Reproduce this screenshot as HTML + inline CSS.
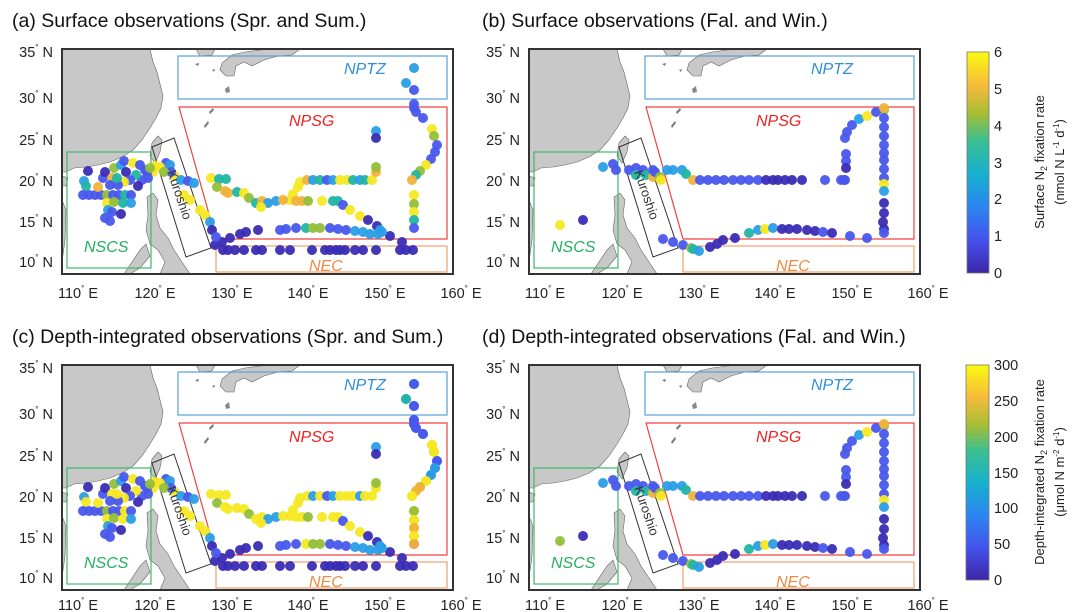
<!DOCTYPE html>
<html><head><meta charset="utf-8">
<style>
html,body{margin:0;padding:0;background:#fff;}
svg{display:block;font-family:"Liberation Sans",sans-serif;}
.t{font-size:19.5px;fill:#111;}
.ax{font-size:14.5px;fill:#222;}
.sup{font-size:8px;}
.rl{font-size:16px;font-style:italic;}
.cb{font-size:14.5px;fill:#222;}
.cbt{font-size:13px;fill:#222;}
</style></head><body>
<svg id="s" width="1080" height="612" viewBox="0 0 1080 612" xmlns="http://www.w3.org/2000/svg">
<defs>
<linearGradient id="par" x1="0" y1="1" x2="0" y2="0">
<stop offset="0" stop-color="#3e26a8"/><stop offset="0.15" stop-color="#4352ec"/>
<stop offset="0.3" stop-color="#2b86f0"/><stop offset="0.45" stop-color="#17b0cf"/>
<stop offset="0.6" stop-color="#3bbf8f"/><stop offset="0.72" stop-color="#a6be35"/>
<stop offset="0.85" stop-color="#f8ba3c"/><stop offset="1" stop-color="#f9fb0e"/>
</linearGradient>
<g id="base">
<rect x="62" y="49" width="391" height="225" fill="#fff"/>
<path d="M62,49 L150,49 L153,62 L157,72 L160,84 L163,96 L161,108 L156,118 L150,128 L142,140 L133,150 L122,157 L110,162 L98,165 L86,167 L74,168 L66,172 L62,172 Z" fill="#c8c8c8" stroke="#666" stroke-width="0.6"/>
<path d="M62,200 L66,210 L65,240 L62,262 Z" fill="#c8c8c8" stroke="#666" stroke-width="0.6"/>
<path d="M62,176 L68,178 L66,186 L62,186 Z" fill="#c8c8c8" stroke="#666" stroke-width="0.6"/>
<path d="M152,143 L158,136 L162,140 L160,152 L155,163 L150,156 Z" fill="#c8c8c8" stroke="#666" stroke-width="0.6"/>
<path d="M147,197 L153,193 L158,200 L156,215 L160,228 L168,238 L174,250 L182,262 L190,274 L160,274 L165,262 L158,250 L150,244 L146,230 L148,215 Z" fill="#c8c8c8" stroke="#666" stroke-width="0.6"/>
<path d="M140,250 L146,244 L150,256 L140,268 L130,274 L124,274 Z" fill="#c8c8c8" stroke="#666" stroke-width="0.6"/>
<path d="M196,49 L215,49 L212,55 L200,56 Z" fill="#c8c8c8" stroke="#666" stroke-width="0.6"/>
<path d="M222,63 L232,55 L245,52 L260,50 L275,49 L300,49 L292,55 L278,56 L264,60 L252,66 L244,62 L236,66 L234,76 L226,76 L220,70 Z" fill="#c8c8c8" stroke="#666" stroke-width="0.6"/>
<path d="M225,89 L229,86 L230,92 L226,93 Z" fill="#888"/>
<path d="M209,112 L213,108 L214,110 L210,114 Z M204,126 L208,121 L209,123 L205,128 Z M195,64 L199,63 L198,66 Z M212,70 L215,69 L214,72Z" fill="#777"/>
<rect x="178" y="56" width="269" height="43" fill="none" stroke="#5aa0d8" stroke-width="1.2"/>
<path d="M179,107 L447,107 L447,239 L216,239 Z" fill="none" stroke="#f04040" stroke-width="1.2"/>
<rect x="67" y="152" width="84" height="116" fill="none" stroke="#3cb76a" stroke-width="1.2"/>
<rect x="216" y="246" width="231" height="26" fill="none" stroke="#f0a070" stroke-width="1.2"/>
<path d="M152,147 L174,138 L211,248 L186,257 Z" fill="none" stroke="#333" stroke-width="1"/>
</g>
</defs>

<use href="#base"/>
<use href="#base" transform="translate(467,0)"/>
<use href="#base" transform="translate(0,316)"/>
<use href="#base" transform="translate(467,316)"/>

<g id="dots"></g>

<g fill="none" stroke="#333" stroke-width="2">
<rect x="62" y="49" width="391" height="225"/>
<rect x="529" y="49" width="391" height="225"/>
<rect x="62" y="365" width="391" height="225"/>
<rect x="529" y="365" width="391" height="225"/>
</g>

<text class="t" x="12" y="27">(a) Surface observations (Spr. and Sum.)</text>
<text class="t" x="482" y="27">(b) Surface observations (Fal. and Win.)</text>
<text class="t" x="12" y="343">(c) Depth-integrated observations (Spr. and Sum.)</text>
<text class="t" x="482" y="343">(d) Depth-integrated observations (Fal. and Win.)</text>

<g class="rl">
<text x="344" y="74" fill="#2f8fd8">NPTZ</text><text x="289" y="126" fill="#f02020">NPSG</text><text x="84" y="252" fill="#22b060">NSCS</text><text x="309" y="271" fill="#f08a40">NEC</text>
<text x="811" y="74" fill="#2f8fd8">NPTZ</text><text x="756" y="126" fill="#f02020">NPSG</text><text x="551" y="252" fill="#22b060">NSCS</text><text x="776" y="271" fill="#f08a40">NEC</text>
<text x="344" y="390" fill="#2f8fd8">NPTZ</text><text x="289" y="442" fill="#f02020">NPSG</text><text x="84" y="568" fill="#22b060">NSCS</text><text x="309" y="587" fill="#f08a40">NEC</text>
<text x="811" y="390" fill="#2f8fd8">NPTZ</text><text x="756" y="442" fill="#f02020">NPSG</text><text x="551" y="568" fill="#22b060">NSCS</text><text x="776" y="587" fill="#f08a40">NEC</text>
</g>
<g font-size="13" fill="#333">
<text transform="translate(167,172) rotate(71)">Kuroshio</text>
<text transform="translate(634,172) rotate(71)">Kuroshio</text>
<text transform="translate(167,488) rotate(71)">Kuroshio</text>
<text transform="translate(634,488) rotate(71)">Kuroshio</text>
</g>

<g class="ax" text-anchor="end">
<text x="53" y="57">35<tspan class="sup" dy="-7">°</tspan><tspan dy="7"> N</tspan></text>
<text x="53" y="103">30<tspan class="sup" dy="-7">°</tspan><tspan dy="7"> N</tspan></text>
<text x="53" y="145">25<tspan class="sup" dy="-7">°</tspan><tspan dy="7"> N</tspan></text>
<text x="53" y="186">20<tspan class="sup" dy="-7">°</tspan><tspan dy="7"> N</tspan></text>
<text x="53" y="227">15<tspan class="sup" dy="-7">°</tspan><tspan dy="7"> N</tspan></text>
<text x="53" y="267">10<tspan class="sup" dy="-7">°</tspan><tspan dy="7"> N</tspan></text>
<text x="520" y="57">35<tspan class="sup" dy="-7">°</tspan><tspan dy="7"> N</tspan></text>
<text x="520" y="103">30<tspan class="sup" dy="-7">°</tspan><tspan dy="7"> N</tspan></text>
<text x="520" y="145">25<tspan class="sup" dy="-7">°</tspan><tspan dy="7"> N</tspan></text>
<text x="520" y="186">20<tspan class="sup" dy="-7">°</tspan><tspan dy="7"> N</tspan></text>
<text x="520" y="227">15<tspan class="sup" dy="-7">°</tspan><tspan dy="7"> N</tspan></text>
<text x="520" y="267">10<tspan class="sup" dy="-7">°</tspan><tspan dy="7"> N</tspan></text>
<text x="53" y="373">35<tspan class="sup" dy="-7">°</tspan><tspan dy="7"> N</tspan></text>
<text x="53" y="419">30<tspan class="sup" dy="-7">°</tspan><tspan dy="7"> N</tspan></text>
<text x="53" y="461">25<tspan class="sup" dy="-7">°</tspan><tspan dy="7"> N</tspan></text>
<text x="53" y="502">20<tspan class="sup" dy="-7">°</tspan><tspan dy="7"> N</tspan></text>
<text x="53" y="543">15<tspan class="sup" dy="-7">°</tspan><tspan dy="7"> N</tspan></text>
<text x="53" y="583">10<tspan class="sup" dy="-7">°</tspan><tspan dy="7"> N</tspan></text>
<text x="520" y="373">35<tspan class="sup" dy="-7">°</tspan><tspan dy="7"> N</tspan></text>
<text x="520" y="419">30<tspan class="sup" dy="-7">°</tspan><tspan dy="7"> N</tspan></text>
<text x="520" y="461">25<tspan class="sup" dy="-7">°</tspan><tspan dy="7"> N</tspan></text>
<text x="520" y="502">20<tspan class="sup" dy="-7">°</tspan><tspan dy="7"> N</tspan></text>
<text x="520" y="543">15<tspan class="sup" dy="-7">°</tspan><tspan dy="7"> N</tspan></text>
<text x="520" y="583">10<tspan class="sup" dy="-7">°</tspan><tspan dy="7"> N</tspan></text>
</g>
<g class="ax" text-anchor="middle">
<text x="78" y="298">110<tspan class="sup" dy="-7">°</tspan><tspan dy="7"> E</tspan></text>
<text x="155" y="298">120<tspan class="sup" dy="-7">°</tspan><tspan dy="7"> E</tspan></text>
<text x="232" y="298">130<tspan class="sup" dy="-7">°</tspan><tspan dy="7"> E</tspan></text>
<text x="308" y="298">140<tspan class="sup" dy="-7">°</tspan><tspan dy="7"> E</tspan></text>
<text x="385" y="298">150<tspan class="sup" dy="-7">°</tspan><tspan dy="7"> E</tspan></text>
<text x="461" y="298">160<tspan class="sup" dy="-7">°</tspan><tspan dy="7"> E</tspan></text>
<text x="545" y="298">110<tspan class="sup" dy="-7">°</tspan><tspan dy="7"> E</tspan></text>
<text x="622" y="298">120<tspan class="sup" dy="-7">°</tspan><tspan dy="7"> E</tspan></text>
<text x="699" y="298">130<tspan class="sup" dy="-7">°</tspan><tspan dy="7"> E</tspan></text>
<text x="775" y="298">140<tspan class="sup" dy="-7">°</tspan><tspan dy="7"> E</tspan></text>
<text x="852" y="298">150<tspan class="sup" dy="-7">°</tspan><tspan dy="7"> E</tspan></text>
<text x="928" y="298">160<tspan class="sup" dy="-7">°</tspan><tspan dy="7"> E</tspan></text>
<text x="78" y="610">110<tspan class="sup" dy="-7">°</tspan><tspan dy="7"> E</tspan></text>
<text x="155" y="610">120<tspan class="sup" dy="-7">°</tspan><tspan dy="7"> E</tspan></text>
<text x="232" y="610">130<tspan class="sup" dy="-7">°</tspan><tspan dy="7"> E</tspan></text>
<text x="308" y="610">140<tspan class="sup" dy="-7">°</tspan><tspan dy="7"> E</tspan></text>
<text x="385" y="610">150<tspan class="sup" dy="-7">°</tspan><tspan dy="7"> E</tspan></text>
<text x="461" y="610">160<tspan class="sup" dy="-7">°</tspan><tspan dy="7"> E</tspan></text>
<text x="545" y="610">110<tspan class="sup" dy="-7">°</tspan><tspan dy="7"> E</tspan></text>
<text x="622" y="610">120<tspan class="sup" dy="-7">°</tspan><tspan dy="7"> E</tspan></text>
<text x="699" y="610">130<tspan class="sup" dy="-7">°</tspan><tspan dy="7"> E</tspan></text>
<text x="775" y="610">140<tspan class="sup" dy="-7">°</tspan><tspan dy="7"> E</tspan></text>
<text x="852" y="610">150<tspan class="sup" dy="-7">°</tspan><tspan dy="7"> E</tspan></text>
<text x="928" y="610">160<tspan class="sup" dy="-7">°</tspan><tspan dy="7"> E</tspan></text>
</g>

<rect x="967" y="52" width="22" height="221" fill="url(#par)" stroke="#777" stroke-width="0.8"/>
<g class="cb">
<text x="994" y="57">6</text><text x="994" y="94">5</text><text x="994" y="131">4</text><text x="994" y="168">3</text><text x="994" y="204">2</text><text x="994" y="241">1</text><text x="994" y="278">0</text>
</g>
<text class="cbt" transform="translate(1044,162) rotate(-90)" text-anchor="middle">Surface N<tspan font-size="9" dy="3">2</tspan><tspan dy="-3"> fixation rate</tspan></text>
<text class="cbt" transform="translate(1064,162) rotate(-90)" text-anchor="middle">(nmol N L<tspan font-size="8" dy="-5">-1</tspan><tspan dy="5"> d</tspan><tspan font-size="8" dy="-5">-1</tspan><tspan dy="5">)</tspan></text>
<rect x="966" y="365" width="23" height="215" fill="url(#par)" stroke="#777" stroke-width="0.8"/>
<g class="cb">
<text x="994" y="370">300</text><text x="994" y="406">250</text><text x="994" y="442">200</text><text x="994" y="478">150</text><text x="994" y="513">100</text><text x="994" y="549">50</text><text x="994" y="585">0</text>
</g>
<text class="cbt" transform="translate(1044,472) rotate(-90)" text-anchor="middle">Depth-integrated N<tspan font-size="9" dy="3">2</tspan><tspan dy="-3"> fixation rate</tspan></text>
<text class="cbt" transform="translate(1064,472) rotate(-90)" text-anchor="middle">(μmol N m<tspan font-size="8" dy="-5">-2</tspan><tspan dy="5"> d</tspan><tspan font-size="8" dy="-5">-1</tspan><tspan dy="5">)</tspan></text>
</svg>
<script>
var C={Y:"#f5e823",O:"#f0b23a",G:"#93bf3a",T:"#22b5a2",C:"#2a9ee6",B:"#4858ec",D:"#3a2cb4"};
var A="414,68C 406,83C 414,90B 414,104B 414,108B 416,112B 423,118B 432,129Y 434,136G 437,145B 435,152B 431,159B 426,165Y 420,171G 416,175T 412,180O 414,195Y 414,204G 414,212Y 414,220T 414,228B "+
"300,182Y 307,180O 313,180C 320,180T 327,180B 333,180C 340,180Y 347,180Y 353,180T 360,180C 365,180T 372,180Y 376,172O 376,167G 376,131C 376,138D 298,187Y 293,194Y 290,200Y "+
"211,178Y 219,179T 226,179T 217,187G 225,191O 228,193O 237,192T 244,193Y 249,198G 256,203T 262,201O 268,203C 276,201C 283,200O 261,207Y "+
"296,201O 302,201O 308,201G 322,201Y 333,201T 338,201T 343,205B 350,210Y 360,216Y 368,220D 377,226D 380,230C 390,236D 402,242D "+
"215,245D 222,242D 230,238D 240,234D 246,232D 258,230D 280,230B 286,229B 296,228B 306,228T 313,228G 320,228G 330,228B 338,229B 346,230B 355,231C 363,232C 370,234C 378,234C 382,232C "+
"223,250D 228,250D 235,250D 244,250D 256,250D 262,250D 280,250D 290,250D 312,250D 325,250D 330,250D 336,250D 340,250D 345,250D 355,250D 363,250D 376,250D 400,250D 406,250D 413,250D "+
"175,176Y 181,180C 188,181B 194,183C 184,195Y 190,200Y 200,210Y 205,215Y 210,222C 212,230D 216,237B 166,163B 170,165C 171,172B 155,166Y 160,167Y 164,172G 153,172Y "+
"88,171D 84,181C 86,186T 83,195B 89,195B 95,195B 101,195B 107,195G 113,195B 119,195B 125,195T 131,195B 98,187O 103,178B 105,172D 114,168G 121,165C 124,161B 126,172D 133,163Y 140,165B 145,170B 148,178B 142,180B 136,175T 130,180B 124,182Y 118,185B 112,178O 110,185B 117,178T 107,203Y 114,202G 123,203T 131,203C 108,210C 112,212B 121,214D 105,218B 110,221B 138,186D 147,172B 150,168G";
var Bs="136,167C 146,164B 149,170B 162,170B 169,168B 169,175T 176,170B 179,175T 186,170B 186,177O 188,172B 193,177G 194,180Y 200,170C 206,170C 215,170C 219,174T 226,180O "+
"233,180B 241,180B 249,180B 257,180B 266,180B 274,180B 282,180B 291,180B 299,180D 306,180D 311,180D 318,180D 325,180D 335,180D 358,180B 374,180B 378,180B "+
"417,110G 417,118B 417,127B 417,136B 417,145B 417,153B 417,160B 417,169B 417,178B 417,184Y 417,191C 417,203D 417,213D 416,222D 417,229D 417,233B "+
"380,132B 378,138B 379,154B 379,161B 379,168D 377,180B 385,125B 392,119C 400,116Y 409,112B 417,108O "+
"196,239B 206,242B 216,245B 224,248G 226,249T 232,251C 243,247D 250,244D 256,240D 268,238D 282,233T 291,230C 298,229Y 306,228C 315,229D 322,229D 330,229D 340,230D 348,231D 356,232B 365,233D 383,236B 400,238B 93,225Y 116,220D";
var Cc="414,68B 406,83T 414,90B 414,104B 414,108B 416,112B 423,118B 432,129Y 434,136Y 437,145B 435,152C 431,159C 426,165Y 420,171O 416,175O 412,180Y 414,195G 414,204Y 414,212O 414,220Y 414,228O";
var Bd=Bs.replace("93,225Y","93,225G");
var g=document.getElementById("dots"),h="";
function add(str,dx,dy,map){str.trim().split(/\s+/).forEach(function(p){var m=p.match(/([\d.]+),([\d.]+)(\w)/);var c=m[3];if(map&&map[c])c=map[c];h+='<circle cx="'+(+m[1]+dx)+'" cy="'+(+m[2]+dy)+'" r="5" fill="'+C[c]+'" opacity="0.95"/>';});}
add(A,0,0);add(Bs,467,0);
add(A,0,316,{T:"Y",O:"Y"});add(Cc,0,316);add(Bd,467,316);
g.innerHTML=h;
</script>
</body></html>
